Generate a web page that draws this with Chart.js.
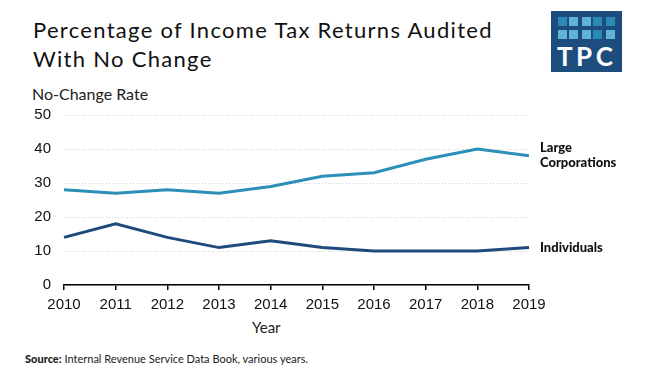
<!DOCTYPE html>
<html>
<head>
<meta charset="utf-8">
<script src="https://cdn.jsdelivr.net/npm/chart.js@4/dist/chart.umd.min.js"></script>
<style>
  html, body { margin: 0; padding: 0; background: #fff; }
  body { width: 646px; height: 369px; position: relative; overflow: hidden; font-family: Lato, sans-serif; color: #111; }
  #wrap { position: absolute; left: 0; top: 0; width: 646px; height: 369px; }
  .title { position: absolute; left: 33px; top: 15px; font-size: 22px; line-height: 29px; letter-spacing: 1.3px; color: #111; }
  .ylabel { position: absolute; left: 32px; top: 84px; font-size: 16px; color: #222; }
  .xlabel { position: absolute; left: 252px; top: 318px; font-size: 15px; color: #222; }
  .source { position: absolute; left: 25px; top: 352px; font-size: 11px; color: #222; }
  .source b { font-weight: 900; }
  .logo { position: absolute; left: 551px; top: 11px; width: 71px; height: 61px; background: #1d4c7e; }
  .logo i { position: absolute; width: 9px; height: 9px; }
  .logo span { position: absolute; left: 6px; top: 29px; font: bold 26px Lato, sans-serif; color: #fff; letter-spacing: 3.5px; }
</style>
</head>
<body>
<div class="title">Percentage of Income Tax Returns Audited<br>With No Change</div>
<div class="ylabel">No-Change Rate</div>
<div class="xlabel">Year</div>
<div class="source"><b>Source:</b> Internal Revenue Service Data Book, various years.</div>
<div class="logo" id="logo"><span>TPC</span></div>
<div id="wrap"><canvas id="chart"></canvas></div>
<script>
const years = ["2010", "2011", "2012", "2013", "2014", "2015", "2016", "2017", "2018", "2019"];
const largeCorporations = [28, 27, 28, 27, 29, 32, 33, 37, 40, 38];
const individuals = [14, 18, 14, 11, 13, 11, 10, 10, 10, 11];
const yTicks = [0, 10, 20, 30, 40, 50];

// logo squares: 2 rows x 5
const logo = document.getElementById("logo");
const shades = [["#2a8ab4", "#5fb3d5", "#5fb3d5", "#2a8ab4", "#2a8ab4"],
                ["#5fb3d5", "#5fb3d5", "#5fb3d5", "#2a8ab4", "#5fb3d5"]];
const colX = [7, 18, 31, 42, 55];
shades.forEach((row, r) => row.forEach((c, i) => {
  const sq = document.createElement("i");
  sq.style.left = colX[i] + "px";
  sq.style.top = (r === 0 ? 6 : 19) + "px";
  sq.style.background = c;
  logo.appendChild(sq);
}));

// labels at the end of each line
const endLabels = {
  id: "endLabels",
  afterDatasetsDraw(chart) {
    const ctx = chart.ctx;
    ctx.save();
    ctx.font = "900 13px Lato, sans-serif";
    ctx.fillStyle = "#111";
    ctx.textBaseline = "middle";
    chart.data.datasets.forEach((ds, i) => {
      const pts = chart.getDatasetMeta(i).data;
      const p = pts[pts.length - 1];
      const lines = ds.endLabel;
      lines.forEach((t, j) => {
        ctx.fillText(t, p.x + 11, p.y + (j - (lines.length - 1) / 2) * 15);
      });
    });
    ctx.restore();
  }
};

new Chart(document.getElementById("chart"), {
  type: "line",
  data: {
    labels: years,
    datasets: [{
      label: "Large Corporations",
      endLabel: ["Large", "Corporations"],
      data: largeCorporations,
      borderColor: "#2b8fb8",
      borderWidth: 3,
      pointRadius: 0,
      tension: 0
    }, {
      label: "Individuals",
      endLabel: ["Individuals"],
      data: individuals,
      borderColor: "#1e4a7c",
      borderWidth: 3,
      pointRadius: 0,
      tension: 0
    }]
  },
  options: {
    responsive: true,
    maintainAspectRatio: false,
    animation: false,
    layout: { padding: { top: 115, right: 117, bottom: 31, left: 0 } },
    plugins: { legend: { display: false }, tooltip: { enabled: false } },
    scales: {
      x: {
        offset: false,
        grid: { drawOnChartArea: false, drawTicks: true, tickLength: 5, color: "#000", lineWidth: 1.5 },
        border: { display: true, color: "#000", width: 1.5 },
        ticks: { color: "#111", padding: 6, maxRotation: 0, font: { family: "'Liberation Sans Narrow', 'Liberation Sans', sans-serif", size: 15 } },
        afterFit(scale) { scale.height = 53; }
      },
      y: {
        min: 0,
        max: 50,
        afterBuildTicks(scale) { scale.ticks = yTicks.map(v => ({ value: v })); },
        grid: { drawTicks: false, color: "#cfcfcf", lineWidth: 1 },
        border: { display: false, dash: [1, 2] },
        ticks: { color: "#111", padding: 13, font: { family: "'Liberation Sans Narrow', 'Liberation Sans', sans-serif", size: 15 } },
        afterFit(scale) { scale.width = 64; }
      }
    }
  },
  plugins: [endLabels]
});
</script>
</body>
</html>
